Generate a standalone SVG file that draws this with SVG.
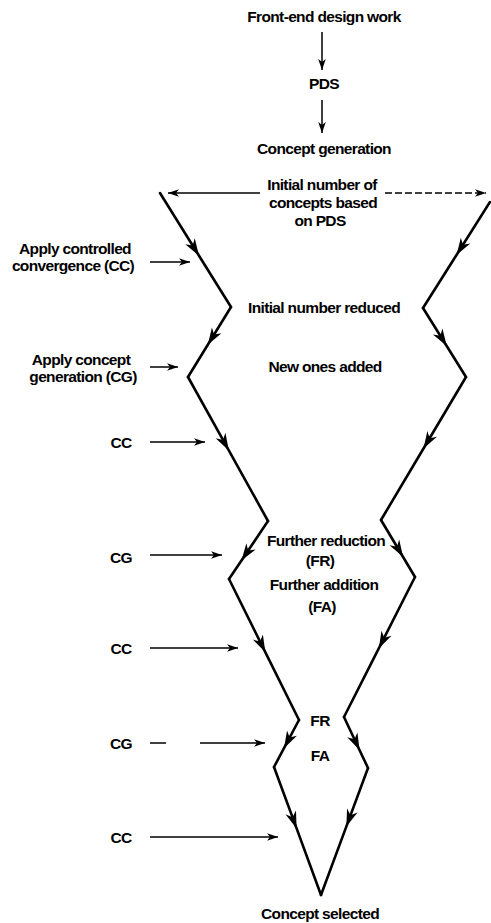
<svg xmlns="http://www.w3.org/2000/svg" width="491" height="923" viewBox="0 0 491 923">
<style>
text{font-family:"Liberation Sans",Arial,Helvetica,sans-serif;font-size:15.5px;font-weight:bold;letter-spacing:-0.65px;fill:#000;text-anchor:middle}
.f{fill:none;stroke:#000;stroke-width:2.6;stroke-linecap:round;stroke-linejoin:miter}
.h{fill:none;stroke:#000;stroke-width:1.5}
</style>
<defs>
<marker id="fa" markerUnits="userSpaceOnUse" viewBox="-18 -7 19 14" markerWidth="19" markerHeight="14" refX="0" refY="0" orient="auto">
<path d="M0,0 L-17,-5.6 L-12,0 L-17,5.6 Z" fill="#000"/>
</marker>
<marker id="ha" markerUnits="userSpaceOnUse" viewBox="-12 -5 13 10" markerWidth="13" markerHeight="10" refX="0" refY="0" orient="auto">
<path d="M0,0 L-11,-3.8 L-8,0 L-11,3.8 Z" fill="#000"/>
</marker>
</defs>
<g id="connectors">
<path class="h" d="M322,32 L322,70" marker-end="url(#ha)"/>
<path class="h" d="M322,100 L322,133" marker-end="url(#ha)"/>
<path class="h" d="M260,193 L168,193" marker-end="url(#ha)"/>
<path class="h" d="M385,193 L486,193" stroke-dasharray="7,3" marker-end="url(#ha)"/>
<path class="f" d="M160,193 L199,255.7 L231,307" marker-mid="url(#fa)"/>
<path class="f" d="M231,307 L207.8,344.8 L188,377" marker-mid="url(#fa)"/>
<path class="f" d="M188,377 L228.8,450.4 L268,521" marker-mid="url(#fa)"/>
<path class="f" d="M268,521 L241.5,560.4 L229,579" marker-mid="url(#fa)"/>
<path class="f" d="M229,579 L265.4,652.3 L299,720" marker-mid="url(#fa)"/>
<path class="f" d="M299,720 L284,748.2 L274,767" marker-mid="url(#fa)"/>
<path class="f" d="M274,767 L296.6,828.4 L321,895" marker-mid="url(#fa)"/>
<path class="f" d="M490,202 L456.5,255 L423,308" marker-mid="url(#fa)"/>
<path class="f" d="M423,308 L446.7,346 L466,377" marker-mid="url(#fa)"/>
<path class="f" d="M466,377 L423.5,448.5 L381,520" marker-mid="url(#fa)"/>
<path class="f" d="M381,520 L403.1,557 L415,577" marker-mid="url(#fa)"/>
<path class="f" d="M415,577 L378.8,648.4 L344,717" marker-mid="url(#fa)"/>
<path class="f" d="M344,717 L359.6,750.2 L368,768" marker-mid="url(#fa)"/>
<path class="f" d="M368,768 L346.4,826.4 L321,895" marker-mid="url(#fa)"/>
<path class="h" d="M150,262 L190,262" marker-end="url(#ha)"/>
<path class="h" d="M150,367 L178,367" marker-end="url(#ha)"/>
<path class="h" d="M150,442 L205,442" marker-end="url(#ha)"/>
<path class="h" d="M150,555 L222,555" marker-end="url(#ha)"/>
<path class="h" d="M150,648 L238,648" marker-end="url(#ha)"/>
<path class="h" d="M150,743 L265,743" stroke-dasharray="16,34,200" marker-end="url(#ha)"/>
<path class="h" d="M150,837 L278,837" marker-end="url(#ha)"/>
</g>
<g id="n-frontend"><text x="324" y="22">Front-end design work</text></g>
<g id="n-pds"><text x="324" y="89">PDS</text></g>
<g id="n-conceptgen"><text x="324" y="154">Concept generation</text></g>
<g id="n-initial"><text x="322" y="190">Initial number of</text><text x="323" y="208">concepts based</text><text x="320" y="226">on PDS</text></g>
<g id="n-applycc"><text x="75" y="254">Apply controlled</text><text x="73" y="271">convergence (CC)</text></g>
<g id="n-reduced"><text x="324" y="313">Initial number reduced</text></g>
<g id="n-applycg"><text x="81" y="365">Apply concept</text><text x="83" y="382">generation (CG)</text></g>
<g id="n-newones"><text x="325" y="372">New ones added</text></g>
<g id="n-cc1"><text x="121" y="448">CC</text></g>
<g id="n-fr1"><text x="326" y="546">Further reduction</text><text x="320" y="566">(FR)</text></g>
<g id="n-cg1"><text x="121" y="563">CG</text></g>
<g id="n-fa1"><text x="324" y="590">Further addition</text><text x="322" y="612">(FA)</text></g>
<g id="n-cc2"><text x="121" y="654">CC</text></g>
<g id="n-fr2"><text x="320" y="726">FR</text></g>
<g id="n-cg2"><text x="121" y="749">CG</text></g>
<g id="n-fa2"><text x="320" y="761">FA</text></g>
<g id="n-cc3"><text x="121" y="843">CC</text></g>
<g id="n-selected"><text x="320" y="919">Concept selected</text></g>
</svg>
